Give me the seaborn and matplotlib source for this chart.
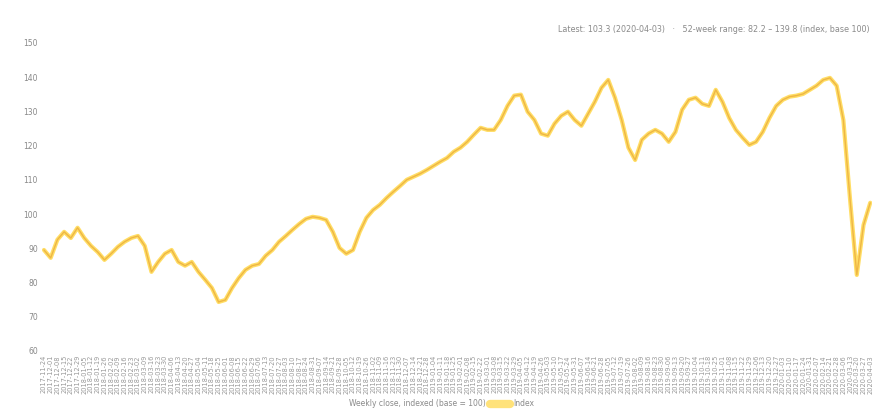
import matplotlib
matplotlib.use("Agg")
import matplotlib.pyplot as plt
from matplotlib.lines import Line2D
import seaborn as sns
import pandas as pd
import numpy as np

values = [89.5, 87.2, 92.5, 94.8, 93.0, 96.0, 93.0, 90.7, 88.9, 86.6,
          88.4, 90.4, 91.9, 93.0, 93.6, 90.7, 83.1, 86.0, 88.4, 89.5,
          86.0, 84.9, 86.0, 83.1, 80.8, 78.4, 74.3, 74.9, 78.4, 81.3,
          83.7, 84.9, 85.4, 87.8, 89.5, 91.9, 93.6, 95.4, 97.1, 98.6,
          99.2, 98.9, 98.3, 94.8, 90.1, 88.4, 89.5, 94.8, 98.9, 101.2,
          102.7, 104.7, 106.5, 108.2, 110.0, 110.9, 111.8, 112.9, 114.1, 115.3,
          116.4, 118.2, 119.4, 121.1, 123.2, 125.2, 124.6, 124.6, 127.5, 131.6,
          134.6, 134.9, 129.9, 127.5, 123.5, 122.9, 126.4, 128.7, 129.9, 127.5,
          125.8, 129.3, 132.8, 136.9, 139.2, 134.0, 127.5, 119.4, 115.8, 121.7,
          123.5, 124.6, 123.5, 121.1, 124.0, 130.5, 133.4, 134.0, 132.2, 131.6,
          136.3, 132.8, 128.1, 124.6, 122.3, 120.2, 121.1, 124.0, 128.1, 131.6,
          133.4, 134.3, 134.6, 135.1, 136.3, 137.5, 139.2, 139.8, 137.5, 127.5,
          104.2, 82.2, 96.8, 103.3]

dates = pd.date_range("2017-11-24", periods=len(values), freq="W-FRI")
date_labels = [d.strftime("%Y-%m-%d") for d in dates]
y_ticks = [60, 70, 80, 90, 100, 110, 120, 130, 140, 150]

df = pd.DataFrame({"idx": np.arange(len(values)), "value": values})

sns.set_theme(style="white")
plt.rcParams["font.family"] = ["DejaVu Sans"]

fig = plt.figure(figsize=(8.74, 4.09), dpi=100)
ax = fig.add_axes([0.048, 0.142, 0.950, 0.753])

sns.lineplot(data=df, x="idx", y="value", ax=ax, color="#FFD84A", lw=3.0, alpha=0.85)
sns.lineplot(data=df, x="idx", y="value", ax=ax, color="#E9A93A", lw=1.0, alpha=0.75)

ax.set_ylim(y_ticks[0], y_ticks[-1])
ax.set_xlim(-0.3, len(values) - 1 + 0.3)
ax.set_yticks(y_ticks)
ax.set_yticklabels([str(t) for t in y_ticks], fontsize=5.5, color="#888888")
ax.set_xticks(df["idx"])
ax.set_xticklabels(date_labels, rotation=90, fontsize=4.8, color="#999999")
ax.tick_params(axis="both", length=0, pad=3)
ax.set_xlabel("")
ax.set_ylabel("")
for s in ax.spines.values():
    s.set_visible(False)

fig.text(0.995, 0.927, "Latest: 103.3 (2020-04-03)   ·   52-week range: 82.2 – 139.8 (index, base 100)",
         ha="right", va="center", fontsize=5.8, color="#8a8a8a")

fig.text(0.556, 0.013, "Weekly close, indexed (base = 100)", ha="right", va="center",
         fontsize=5.5, color="#8a8a8a")
fig.legend(handles=[Line2D([0], [0], color="#FFE27A", lw=6)], labels=["Index"],
           loc="center left", bbox_to_anchor=(0.553, 0.013), frameon=False,
           fontsize=5.5, handlelength=2.6, handletextpad=0.4, labelcolor="#8a8a8a")

fig.savefig("out.png", dpi=100, facecolor="white")
